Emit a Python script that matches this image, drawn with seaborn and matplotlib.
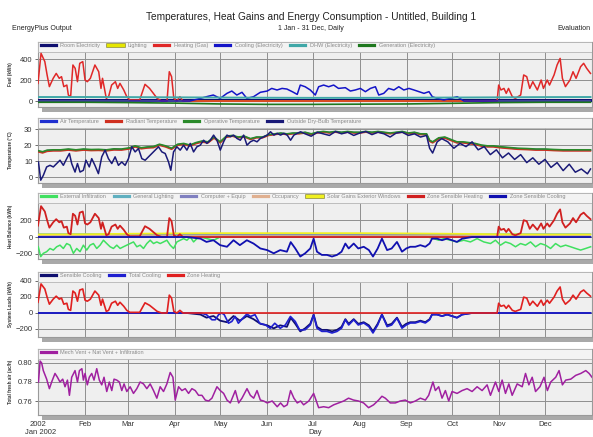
import matplotlib.pyplot as plt
import seaborn as sns
from matplotlib.patches import Rectangle
from matplotlib.lines import Line2D
import matplotlib.patheffects as pe

plt.rcParams['font.family'] = ['Liberation Sans', 'DejaVu Sans']

month_starts = [0, 31, 59, 90, 120, 151, 181, 212, 243, 273, 304, 334]
month_labels = ['2002', 'Feb', 'Mar', 'Apr', 'May', 'Jun', 'Jul', 'Aug', 'Sep', 'Oct', 'Nov', 'Dec']

# ---- panel 1: fuel (kWh) ----
monthly_days = [0, 31, 59, 90, 120, 151, 181, 212, 243, 273, 304, 334, 364]
room_electricity = [10, 10, 10, 10, 10, 10, 10, 10, 10, 10, 10, 10, 10]
lighting = [2, 2, 2, 2, 2, 2, 2, 2, 2, 2, 2, 2, 2]
dhw = [38, 38, 37, 35, 33, 31, 30, 30, 31, 33, 35, 37, 38]
generation = [-12, -12, -15, -20, -28, -32, -32, -30, -28, -22, -15, -12, -12]

heat_days = [0, 2, 4.5, 6, 7.5, 10, 12, 14, 15.5, 17, 19, 20, 21.5, 23, 24.5, 26, 27.5, 29.5, 31, 32.5,
             34.5, 37.5, 40, 41.5, 42.5, 45, 46.5, 48.5, 51, 52.5, 54, 56.5, 58.5, 60.5, 64, 67, 70.5, 73.5, 76, 78.5,
             81.5, 85, 86.5, 88, 89.5, 91.5, 93.5, 95.5, 100, 150, 200, 250, 302.5, 303.5, 305, 307, 308.5, 310, 312.5, 314.5,
             318, 320, 322, 324, 326, 329, 331.5, 333, 335.5, 337, 340, 342, 344, 345.5, 347.5, 350.5, 352.5, 354.5, 357.5, 359.5,
             361.5, 364]
heating_gas = [168, 454, 375, 248, 137, 216, 263, 216, 232, 137, 152, 57, 41, 343, 311, 184, 359, 375, 200, 184,
               216, 343, 279, 120, 216, 25, 41, 152, 184, 120, 168, 105, 41, 10, 10, 10, 159, 120, 73, 25,
               0, 0, 279, 232, 25, 0, 41, 0, 0, 0, 0, 0, 0, 152, 105, 120, 73, 120, 41, 25,
               57, 248, 232, 120, 184, 105, 200, 120, 200, 152, 248, 343, 406, 216, 137, 200, 279, 216, 327, 359,
               311, 263]
zone_heating = [134, 363, 300, 198, 110, 173, 210, 173, 186, 110, 122, 46, 33, 274, 249, 147, 287, 300, 160, 147,
                173, 274, 223, 96, 173, 20, 33, 122, 147, 96, 134, 84, 33, 8, 8, 8, 127, 96, 58, 20,
                0, 0, 223, 186, 20, 0, 33, 0, 0, 0, 0, 0, 0, 122, 84, 96, 58, 96, 33, 20,
                46, 198, 186, 96, 147, 84, 160, 96, 160, 122, 198, 274, 325, 173, 110, 160, 223, 173, 262, 287,
                249, 210]

cool_days = [0, 100, 107, 111, 115.5, 120, 124.5, 127.7, 131, 134.4, 137.6, 142, 146.5, 151, 154, 157.5, 160.8, 164,
             167.5, 170.8, 172.8, 176, 179.4, 182.7, 184.9, 188.2, 191.5, 194.8, 198, 202.5, 205.8, 209, 212.4, 215.7,
             219, 222.3, 224.5, 227.8, 231, 234.5, 237.7, 241, 244.4, 247.7, 251, 254.3, 257.6, 259.8, 263, 267.4,
             276.2, 280.6, 290, 364]
cooling_elec = [0, 0, 25, 41, 57, 25, 73, 95, 57, 83, 25, 41, 83, 95, 120, 105, 120, 114, 89, 63,
                152, 136, 105, 57, 136, 152, 136, 152, 120, 127, 95, 105, 120, 89, 120, 136, 57, 73, 120, 105,
                136, 105, 120, 105, 89, 73, 89, 41, 25, 10, 41, 0, 0, 0]

# ---- panel 2: temperatures (C) ----
op_days = [0, 3, 6, 10, 15, 20, 25, 30, 35, 40, 45, 50, 55, 60, 64, 68, 72, 76, 80, 84,
           88, 92, 96, 100, 104, 108, 112, 116, 120, 124, 128, 132, 136, 140, 144, 148, 152, 156, 160, 164,
           168, 172, 176, 180, 184, 188, 192, 196, 200, 204, 208, 212, 216, 220, 224, 228, 232, 236, 240, 244,
           248, 252, 256, 258, 260, 264, 268, 272, 276, 280, 284, 288, 292, 296, 300, 304, 310, 316, 322, 328,
           334, 340, 346, 352, 358, 364]
operative_temp = [16.5, 15.8, 16.8, 17.0, 17.0, 17.5, 17.0, 17.5, 17.2, 17.3, 17.0, 17.6, 17.5, 18.2, 19.5, 18.3, 18.8, 19.0, 20.5, 19.5,
                  18.0, 20.5, 21.0, 20.0, 21.5, 22.5, 22.0, 25.0, 22.0, 25.5, 26.0, 25.0, 25.5, 24.0, 25.0, 25.0, 26.5, 27.0, 27.5, 27.0,
                  27.5, 27.5, 28.0, 27.0, 28.0, 28.5, 28.0, 28.5, 28.0, 28.5, 28.0, 28.0, 28.5, 28.0, 28.5, 28.0, 27.5, 28.0, 28.5, 27.5,
                  28.0, 27.0, 27.0, 23.0, 22.0, 24.5, 25.0, 23.5, 22.0, 22.0, 21.5, 21.0, 20.0, 19.5, 19.5, 19.0, 18.5, 18.0, 17.8, 17.5,
                  17.5, 17.2, 17.0, 17.0, 17.0, 17.0]
radiant_temp = [15.8, 15.0, 16.0, 16.3, 16.3, 16.8, 16.3, 16.8, 16.5, 16.6, 16.3, 16.9, 16.8, 17.5, 18.8, 17.6, 18.1, 18.3, 19.8, 18.8,
                17.3, 19.8, 20.3, 19.3, 20.8, 21.8, 21.3, 24.3, 21.3, 24.8, 25.5, 24.5, 25.0, 23.5, 24.5, 24.5, 26.0, 26.5, 27.0, 26.5,
                27.0, 27.0, 27.5, 26.5, 27.5, 28.0, 27.5, 28.0, 27.5, 28.0, 27.5, 27.5, 28.0, 27.5, 28.0, 27.5, 27.0, 27.5, 28.0, 27.0,
                27.5, 26.5, 26.5, 22.3, 21.3, 23.8, 24.3, 22.8, 21.3, 21.3, 20.8, 20.3, 19.3, 18.8, 18.8, 18.3, 17.8, 17.3, 17.1, 16.8,
                16.8, 16.5, 16.3, 16.3, 16.3, 16.3]
air_temp = [16.2, 15.5, 16.5, 16.7, 16.7, 17.2, 16.7, 17.2, 16.9, 17.0, 16.7, 17.3, 17.2, 17.9, 19.2, 18.0, 18.5, 18.7, 20.2, 19.2,
            17.7, 20.2, 20.7, 19.7, 21.2, 22.2, 21.7, 24.7, 21.7, 25.2, 25.8, 24.8, 25.3, 23.8, 24.8, 24.8, 26.3, 26.8, 27.3, 26.8,
            27.3, 27.3, 27.8, 26.8, 27.8, 28.3, 27.8, 28.3, 27.8, 28.3, 27.8, 27.8, 28.3, 27.8, 28.3, 27.8, 27.3, 27.8, 28.3, 27.3,
            27.8, 26.8, 26.8, 22.7, 21.7, 24.2, 24.7, 23.2, 21.7, 21.7, 21.2, 20.7, 19.7, 19.2, 19.2, 18.7, 18.2, 17.7, 17.5, 17.2,
            17.2, 16.9, 16.7, 16.7, 16.7, 16.7]

out_days = [0.3, 1.8, 3.5, 5.7, 7.9, 10.1, 12.3, 14.5, 16.7, 18.9, 20.7, 22.2, 24.4, 26, 27.7, 29.9, 31.6, 33.8, 35.4, 37.5,
            39.8, 42, 44.2, 46.4, 48.6, 50.8, 53, 55.2, 57.4, 59.6, 61.8, 64, 66.2, 68.4, 70.6, 72.8, 75, 77.2, 79.4, 81.6,
            83.8, 86, 87.5, 89.3, 91.5, 93.7, 95.9, 98.1, 100.3, 102.5, 104.7, 106.9, 109.1, 111.3, 113.5, 115.7, 117.9, 120.1, 122.3, 124.5,
            126.7, 128.9, 131.1, 133.3, 135.5, 137.7, 139.9, 142.1, 144.3, 146.5, 151, 153.2, 155.4, 157.6, 159.8, 162, 164.2, 166.4, 168.6, 170.8,
            173, 176, 180, 184, 188, 192, 196, 200, 204, 208, 212, 216, 220, 224, 228, 232, 236, 240, 244, 248,
            252, 256, 258, 260, 263, 266, 270, 274, 278, 282, 286, 290, 294, 298, 302, 306, 310, 314, 318, 322,
            326, 330, 334, 338, 342, 346, 350, 354, 358, 362, 364]
outside_temp = [9.4, -2, 1, 6.3, 7.3, 6.3, 8.4, 10.5, 7.3, 11.5, 14.7, 8.4, 3.1, 8.4, 3.1, 4.2, 10.5, 6.3, 11.5, 7.3,
                2.1, 12.6, 16.8, 11.5, 8.4, 12.6, 7.3, 9.4, 7.3, 11.5, 18.9, 15.7, 17.8, 11.5, 10.5, 12.6, 14.7, 16.8, 18.9, 15.7,
                14.7, 9.4, 4.2, 15.7, 18.9, 16.8, 19.9, 16.8, 21, 15.7, 18.9, 19.9, 23, 21, 23, 26.2, 23, 16.8, 22, 26.2,
                25.2, 26.2, 24.1, 23, 26.2, 19.9, 22, 23, 22, 24.1, 26.2, 28.3, 26.2, 27.3, 26.2, 27.3, 26.2, 23, 26.2, 27.3,
                28.3, 27, 25.5, 28, 27, 26, 28.5, 27, 28, 26, 27.5, 28.5, 26.5, 28, 27, 25, 27.5, 28, 26, 27,
                25, 26, 18, 15, 22, 24, 22, 18, 21, 19, 22, 17, 19, 14, 17, 12, 15, 11, 14, 9,
                12, 8, 11, 6, 9, 4, 8, 3, 5, 2, 5]

# ---- panel 3: heat balance (kWh) ----
infil_days = [0.2, 1.8, 3.5, 5.7, 7.9, 10.1, 12.3, 14.5, 16.7, 18.9, 21.1, 23.3, 25.5, 27.7, 29.9, 32.1, 34.3, 36.5, 38.7, 40.9,
              43.1, 45.3, 47.5, 49.7, 51.9, 54.1, 56.3, 58.5, 60.7, 62.9, 65.1, 67.3, 69.5, 71.7, 73.9, 76.1, 78.3, 80.5, 82.7, 84.9,
              87.1, 89.3, 91.5, 93.7, 95.9, 98.1, 100.3, 102.5, 104.7, 106.9, 111.3, 115.7, 120.1,
              125, 150, 180, 210, 240, 255,
              260.7, 264, 267.3, 271.7, 276.1, 280.5, 284.9, 289.3, 293.7, 298.1, 301.4, 304.7, 308, 311.3, 314.6, 317.9, 321.2, 324.5, 327.8, 331.1,
              334.4, 337.7, 341, 344.3, 347.6, 350.9, 354.2, 357.5, 360.8, 364.1]
external_infiltration = [-115, -231, -192, -173, -135, -154, -115, -96, -135, -77, -96, -192, -135, -173, -96, -154, -96, -77, -135, -96,
                         -38, -77, -115, -135, -96, -135, -115, -96, -77, -58, -115, -96, -135, -77, -38, -77, -58, -77, -58, -38,
                         -96, -135, -58, -38, -19, -38, 0, -58, -19, 0, -19, -38, 0,
                         10, 15, 15, 15, 15, 10,
                         -19, -38, -19, -38, -58, -38, -58, -19, -58, -77, -38, -96, -58, -77, -115, -77, -96, -58, -115, -77,
                         -96, -135, -77, -115, -96, -115, -135, -154, -135, -115]
general_lighting = [35, 35, 34, 33, 32, 30, 30, 30, 31, 32, 34, 35, 35]
computer_equip = [22, 22, 22, 22, 22, 22, 22, 22, 22, 22, 22, 22, 22]
occupancy = [12, 12, 12, 12, 12, 12, 12, 12, 12, 12, 12, 12, 12]
solar_gains = [30, 32, 38, 42, 45, 45, 45, 45, 42, 38, 32, 30, 30]

sens_days = [0, 98, 107, 111, 115.6, 120, 124.5, 128.8, 133, 137.6, 142, 146.5, 151, 155.3, 159.6, 164, 166.5, 169.5, 172.8, 176,
             179.4, 181.6, 183.8, 187, 190.4, 193.7, 197, 200, 202.5, 204.7, 208, 211, 214.6, 218, 220.7, 223.8, 226.6, 230, 233, 236.5,
             239.8, 242.6, 245.3, 248.6, 251.9, 255.2, 258, 259.6, 262.9, 266.2, 269.5, 272.8, 276, 279.5, 282.8, 286, 364]
zone_sens_cooling = [0, 0, -19, -58, -38, -96, -115, -38, -96, -38, -77, -135, -154, -192, -154, -173, -60, -135, -230, -192,
                     -135, -19, -173, -211, -211, -230, -211, -173, -77, -135, -77, -135, -115, -154, -230, -135, -19, -154, -135, -58,
                     -173, -135, -115, -115, -96, -115, -77, -19, -19, -38, -19, -38, -58, -19, -10, 0, 0]

# ---- panel 4: system loads (kWh) ----
total_cool_days = [0, 107, 111, 114.6, 116.8, 119, 121, 122.7, 125.5, 127.7, 129.9, 132, 135, 137.6, 140, 143, 146, 149.8, 153, 156,
                   159.6, 163, 166.3, 169.5, 172.4, 176, 179.4, 181.6, 183.8, 187, 190.4, 193.7, 197, 200, 202.5, 204.7, 208, 211, 214.6, 218,
                   220.7, 223.8, 226.6, 230, 233, 236.5, 239.8, 242.6, 245.3, 248.6, 251.9, 255.2, 258, 259.6, 262.9, 266.2, 269.5, 272.8, 276, 279.5,
                   282.8, 286, 364]
total_cooling = [0, 0, -21, -85, -85, -21, 0, -21, -128, -106, -43, -128, -64, -13, -43, -21, -128, -149, -191, -128,
                 -191, -149, -43, -106, -213, -210, -150, -25, -190, -230, -230, -250, -230, -190, -85, -150, -85, -150, -125, -170,
                 -250, -150, -20, -170, -150, -65, -190, -150, -125, -125, -105, -125, -85, -20, -20, -40, -20, -40, -60, -20,
                 -10, 0, 0]

# ---- panel 5: total fresh air (ac/h) ----
air_days = [0.3, 1.4, 2.4, 3.5, 5.7, 7.5, 9, 11.2, 12.8, 14.5, 16.3, 17.8, 19.4, 20.7, 22.2, 24.4, 26, 27.3, 28.9, 29.9,
            31, 32.5, 33.8, 35.4, 36.9, 38.7, 40.4, 42, 43.5, 45.3, 47, 48.6, 50.1, 51.9, 53.6, 55.2, 56.7, 58.5, 60.7, 62.9,
            65.1, 67.3, 69.5, 71.7, 73.9, 76.1, 78.3, 80.5, 82.7, 84.9, 87.1, 88.9, 90.4, 92.6, 94.8, 97, 99.2, 101.4, 103.6, 105.8,
            108, 110.2, 112.4, 114.6, 117.9, 120.1, 122.3, 124.5, 126.7, 130, 132.2, 134.4, 137.7, 139.9, 142.1, 144.3, 146.5, 148.7, 151, 154.3,
            157.6, 159.8, 162, 164.2, 166.4, 168.6, 170.8, 173,
            175, 178.4, 181.6, 182.7, 184.9, 188.2, 191.5, 194.8, 198.1, 201.4, 204.6, 207.9, 211.2, 214.5, 217.8, 221.1, 224.4, 226.6, 228.8, 232.1,
            235.4, 238.7, 242, 245.3, 248.6, 251.9, 255.2, 257.4, 260.2, 261.8, 264, 266.2, 268.4, 270.6, 272.8, 276.1, 279.4, 282.7, 286, 289.3,
            292.6, 295.9, 298.1, 301.4, 303.6, 305.8, 308, 310.2, 312.4, 315.7, 319, 321.2, 323.4, 325.6, 327.8, 330.7, 333.4, 335.6, 337.8, 341.1,
            343.3, 345.5, 347.7, 351, 354.3, 357.6, 360.9, 363.1, 365]
fresh_air = [.780, .802, .800, .792, .783, .773, .780, .789, .785, .780, .783, .775, .782, .766, .785, .792, .780, .792, .794, .782,
             .789, .777, .785, .789, .782, .794, .782, .777, .785, .770, .780, .771, .783, .782, .780, .771, .778, .770, .775, .768,
             .773, .780, .778, .773, .778, .771, .763, .775, .770, .778, .790, .785, .761, .775, .771, .773, .768, .773, .771, .766,
             .766, .761, .760, .763, .775, .771, .768, .761, .758, .771, .758, .763, .773, .766, .763, .771, .761, .760, .758, .760,
             .754, .758, .754, .756, .771, .763, .758, .760,
             .756, .760, .768, .763, .753, .754, .753, .756, .758, .760, .763, .761, .760, .758, .753, .756, .761, .765, .763, .758,
             .758, .760, .761, .758, .760, .763, .761, .766, .780, .771, .775, .763, .771, .760, .770, .768, .771, .773, .770, .775,
             .771, .777, .766, .780, .770, .782, .768, .778, .766, .778, .775, .789, .777, .785, .770, .775, .785, .771, .780, .785,
             .792, .777, .782, .783, .787, .789, .792, .789, .785]

# ---- figure ----
W, H = 593, 437
fig = plt.figure(figsize=(W / 100, H / 100), dpi=100)
fig.patch.set_facecolor('white')

panels = [(42, 107), (118, 183), (193, 259), (272, 337), (349, 415)]
axes = []
for top, bot in panels:
    ax = fig.add_axes([38 / W, 1 - bot / H, 554 / W, (bot - top) / H])
    fig.patches.append(Rectangle(((38 + 4) / W, 1 - (bot + 5) / H), 554 / W, (bot - top) / H,
                                 transform=fig.transFigure, facecolor='#a9a9a9', edgecolor='none', zorder=-1))
    axes.append(ax)


def style(ax, ylim, yticks, ylabel, labels, colors, fmt=None, outlined=()):
    ax.set_xlim(0, 365)
    ax.set_ylim(*ylim)
    ax.set_yticks(yticks)
    if fmt:
        ax.set_yticklabels([fmt.format(v) for v in yticks])
    ax.set_xticks(month_starts)
    ax.set_facecolor('#efefef')
    ax.grid(True, color='#8e8e8e', linewidth=0.7)
    ax.set_axisbelow(True)
    for s in ax.spines.values():
        s.set_color('#9a9a9a')
        s.set_linewidth(0.8)
    ax.tick_params(axis='y', labelsize=5.5, length=2, width=0.5, colors='#333333', pad=2)
    ax.tick_params(axis='x', length=0, labelbottom=False)
    ax.set_xlabel('')
    ax.set_ylabel(ylabel, fontsize=3.3, fontweight='bold', color='#333333')
    ax.yaxis.set_label_coords(-0.045, 0.5)
    ax.add_patch(Rectangle((0, 0.845), 1, 0.155, transform=ax.transAxes,
                           facecolor='#f3f3f3', edgecolor='#b5b5b5', lw=0.6, zorder=3))
    handles = []
    for lab, c in zip(labels, colors):
        h = Line2D([], [], color=c, lw=2.3)
        if lab in outlined:
            h.set_path_effects([pe.withStroke(linewidth=3.3, foreground='#8c8c30')])
        handles.append(h)
    leg = ax.legend(handles, labels, loc='upper left', bbox_to_anchor=(0.0, 1.03), ncol=len(labels),
                    fontsize=4.0, frameon=False, handlelength=2.7, handletextpad=0.8,
                    columnspacing=1.35, borderaxespad=0.1)
    for t in leg.get_texts():
        t.set_color('#8a8a8a')
    leg.set_zorder(6)


def line(ax, x, y, color, lw=1.1):
    sns.lineplot(x=x, y=y, ax=ax, color=color, linewidth=lw, zorder=4)


# panel 1
ax = axes[0]
c1 = ['#101070', '#e6e600', '#e02828', '#1414c8', '#40a8a8', '#1e781e']
line(ax, monthly_days, room_electricity, c1[0], 2.2)
line(ax, monthly_days, lighting, c1[1], 1.2)
line(ax, heat_days, heating_gas, c1[2], 1.1)
line(ax, cool_days, cooling_elec, c1[3], 1.1)
line(ax, monthly_days, dhw, c1[4], 1.4)
line(ax, monthly_days, generation, c1[5], 1.2)
style(ax, (-57, 562), [0, 200, 400], 'Fuel (kWh)',
      ['Room Electricity', 'Lighting', 'Heating (Gas)', 'Cooling (Electricity)', 'DHW (Electricity)', 'Generation (Electricity)'],
      c1, outlined=('Lighting',))

# panel 2
ax = axes[1]
c2 = ['#2030d0', '#d03020', '#2a8a2a', '#1a1a78']
line(ax, op_days, air_temp, c2[0])
line(ax, op_days, radiant_temp, c2[1])
line(ax, op_days, operative_temp, c2[2], 1.2)
line(ax, out_days, outside_temp, c2[3])
style(ax, (-3.75, 36.9), [0, 10, 20, 30], 'Temperature (\u00b0C)',
      ['Air Temperature', 'Radiant Temperature', 'Operative Temperature', 'Outside Dry-Bulb Temperature'], c2)

# panel 3
ax = axes[2]
c3 = ['#40e060', '#60b0c0', '#8080c0', '#e0b090', '#f0f020', '#d02020', '#1010b0']
line(ax, infil_days, external_infiltration, c3[0])
line(ax, monthly_days, general_lighting, c3[1])
line(ax, monthly_days, computer_equip, c3[2])
line(ax, monthly_days, occupancy, c3[3])
line(ax, monthly_days, solar_gains, c3[4], 1.3)
line(ax, heat_days, zone_heating, c3[5], 1.3)
line(ax, sens_days, zone_sens_cooling, c3[6], 1.3)
style(ax, (-259, 518), [-200, 0, 200], 'Heat Balance (kWh)',
      ['External Infiltration', 'General Lighting', 'Computer + Equip', 'Occupancy', 'Solar Gains Exterior Windows',
       'Zone Sensible Heating', 'Zone Sensible Cooling'], c3, outlined=('Solar Gains Exterior Windows',))

# panel 4
ax = axes[3]
c4 = ['#101070', '#2020d0', '#e02020']
line(ax, sens_days, zone_sens_cooling, c4[0], 1.3)
line(ax, total_cool_days, total_cooling, c4[1], 1.2)
line(ax, heat_days, zone_heating, c4[2], 1.2)
style(ax, (-300, 512), [-200, 0, 200, 400], 'System Loads (kWh)',
      ['Sensible Cooling', 'Total Cooling', 'Zone Heating'], c4)

# panel 5
ax = axes[4]
c5 = ['#a020a0']
line(ax, air_days, fresh_air, c5[0], 1.1)
style(ax, (0.7453, 0.8147), [0.76, 0.78, 0.80], 'Total fresh air (ac/h)',
      ['Mech Vent + Nat Vent + Infiltration'], c5, fmt='{:.2f}')
ax.tick_params(axis='x', labelbottom=True, labelsize=5.5, colors='#333333', pad=4)
ax.set_xticklabels(month_labels)

# header / footer text
fig.text(311 / W, 1 - 17 / H, 'Temperatures, Heat Gains and Energy Consumption - Untitled, Building 1',
         ha='center', va='center', fontsize=7.3, color='#222222')
fig.text(311 / W, 1 - 28 / H, '1 Jan - 31 Dec, Daily', ha='center', va='center', fontsize=5, color='#222222')
fig.text(12 / W, 1 - 28 / H, 'EnergyPlus Output', ha='left', va='center', fontsize=5, color='#222222')
fig.text(591 / W, 1 - 28 / H, 'Evaluation', ha='right', va='center', fontsize=5, color='#222222')
fig.text(25 / W, 1 - 432 / H, 'Jan 2002', ha='left', va='center', fontsize=5.5, color='#333333')
fig.text(315 / W, 1 - 432 / H, 'Day', ha='center', va='center', fontsize=5.5, color='#333333')

fig.savefig('out.png', dpi=100)
